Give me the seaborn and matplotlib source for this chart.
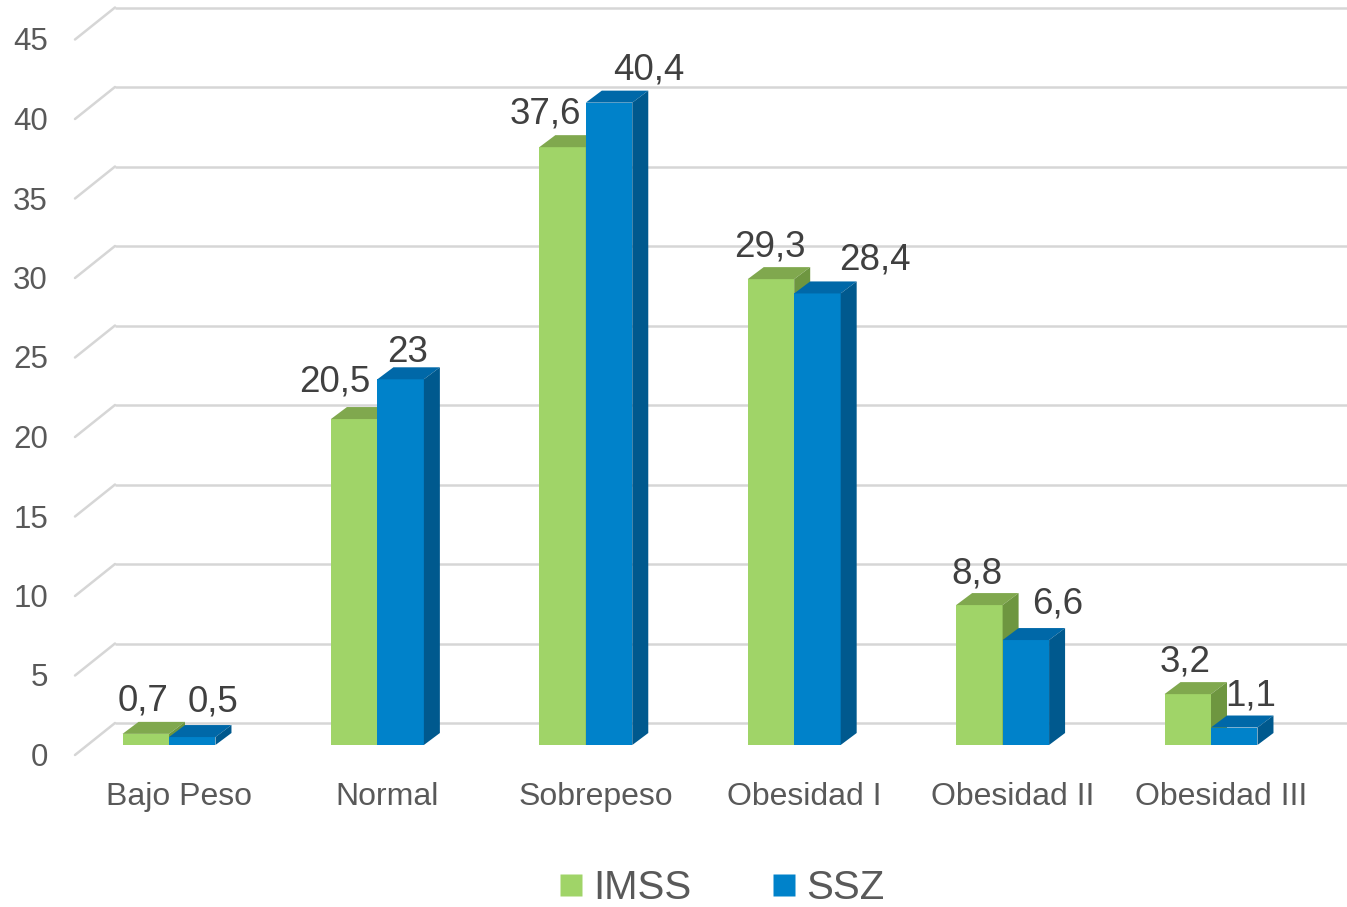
import matplotlib
matplotlib.use("Agg")
import matplotlib.pyplot as plt
from matplotlib.patches import Polygon
from matplotlib.lines import Line2D
import seaborn as sns
import pandas as pd

# Data
categories = ["Bajo Peso", "Normal", "Sobrepeso", "Obesidad I", "Obesidad II", "Obesidad III"]
imss = [0.7, 20.5, 37.6, 29.3, 8.8, 3.2]
ssz = [0.5, 23, 40.4, 28.4, 6.6, 1.1]
series_names = ["IMSS", "SSZ"]
y_ticks = [0, 5, 10, 15, 20, 25, 30, 35, 40, 45]

# Style
front = {"IMSS": "#A0D468", "SSZ": "#0082CA"}
top = {"IMSS": "#80A84E", "SSZ": "#0068A8"}
side = {"IMSS": "#6E9640", "SSZ": "#00598E"}
grid_color = "#D6D6D6"
axis_text = "#595959"
label_text = "#404040"

# Label nudges in pixels (x, y of the digits' middle above the bar's front top edge)
label_dx = {"IMSS": [-3, -19, -17, -1, -2, -3], "SSZ": [21, 7, 40, 58, 32, 16]}
label_dy = {"IMSS": [36, 41, 37, 36, 35, 36], "SSZ": [39, 30, 36, 37, 40, 35]}

W, H, DPI = 1347, 907, 100
X0, STEP = 169.0, 208.4      # pixel of first category, pixels per category
Y0, SCALE = 745.0, 15.9      # pixel of value 0 (from top), pixels per unit
DX, DY = 1.0 / STEP, 1.0 / SCALE


def px_x(px):
    return (px - X0) / STEP


def px_y(py):
    return (Y0 - py) / SCALE


df = pd.DataFrame({
    "categoria": categories * 2,
    "serie": [series_names[0]] * len(categories) + [series_names[1]] * len(categories),
    "valor": imss + ssz,
})

sns.set_style("white")
plt.rcParams["font.family"] = ["Liberation Sans", "DejaVu Sans"]

fig = plt.figure(figsize=(W / DPI, H / DPI), dpi=DPI)
ax = fig.add_axes([0, 0, 1, 1])

sns.barplot(data=df, x="categoria", y="valor", hue="serie", order=categories,
            hue_order=series_names, palette=[front[s] for s in series_names],
            width=0.446, saturation=1, errorbar=None, legend=False, ax=ax,
            edgecolor="none", linewidth=0)

ax.set_xlim(px_x(0), px_x(W))
ax.set_ylim(px_y(H), px_y(0))
ax.axis("off")

# Back wall gridlines with the diagonal floor edge on the left
depth_back_x, depth_front_x = 115, 75
for v in y_ticks:
    yb = v + 22 * DY
    yf = v - 10 * DY
    ax.plot([px_x(depth_back_x), px_x(W)], [yb, yb], color=grid_color, lw=1.8,
            zorder=1, solid_capstyle="butt")
    ax.plot([px_x(depth_front_x), px_x(depth_back_x)], [yf, yb], color=grid_color,
            lw=1.8, zorder=1)
    ax.text(px_x(48), yf - 11 * DY, str(v), ha="right", va="baseline",
            fontsize=22.5, color=axis_text)

# 3D faces on each bar: top and right side
ddx, ddy = 16 * DX, 12 * DY
n = len(categories)
for k, patch in enumerate(ax.patches):
    s = series_names[k // n]
    i = k % n
    z = 3 + (k // n) * 2
    patch.set_zorder(z)
    x0 = patch.get_x()
    x1 = x0 + patch.get_width()
    h = patch.get_height()
    ax.add_patch(Polygon([(x0, h), (x1, h), (x1 + ddx, h + ddy), (x0 + ddx, h + ddy)],
                         closed=True, facecolor=top[s], edgecolor="none", zorder=z))
    ax.add_patch(Polygon([(x1, 0), (x1, h), (x1 + ddx, h + ddy), (x1 + ddx, ddy)],
                         closed=True, facecolor=side[s], edgecolor="none", zorder=z))
    cx = x0 + patch.get_width() / 2
    ax.text(cx + label_dx[s][i] * DX, h + (label_dy[s][i] - 13) * DY,
            f"{h:g}".replace(".", ","), ha="center", va="baseline",
            fontsize=26.5, color=label_text, zorder=10)

# Category labels
for i, c in enumerate(categories):
    ax.text(i + 10 * DX, px_y(805), c, ha="center", va="baseline",
            fontsize=23, color=axis_text)

# Legend
handles = [Line2D([0], [0], marker="s", linestyle="none", markersize=16,
                  markerfacecolor=front[s], markeredgecolor="none") for s in series_names]
leg = ax.legend(handles, series_names, loc="center",
                bbox_to_anchor=(722 / W, 1 - 888 / H), ncol=2, frameon=False,
                fontsize=29, handlelength=0.6, handletextpad=0.25,
                columnspacing=2.0, borderpad=0)
for t in leg.get_texts():
    t.set_color(axis_text)

fig.savefig("out.png", dpi=DPI)
